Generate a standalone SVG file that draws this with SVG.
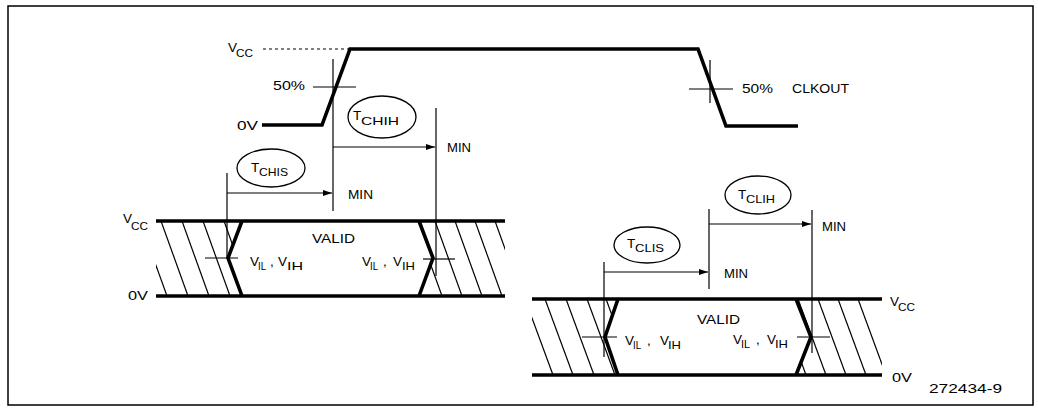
<svg xmlns="http://www.w3.org/2000/svg" width="1038" height="416" viewBox="0 0 1038 416">
<style>
text{font-family:"Liberation Sans",Arial,sans-serif;fill:#000}
.t{font-size:13.5px}
.s{font-size:11.5px}
.thick{fill:none;stroke:#000;stroke-width:3.6;stroke-linejoin:miter}
.thin{fill:none;stroke:#000;stroke-width:1.2}
.hat{stroke:#000;stroke-width:1.2}
.ov{fill:none;stroke:#000;stroke-width:1.3}
</style>
<defs>
<marker id="ah" markerWidth="10" markerHeight="8" refX="9" refY="3.5" orient="auto" markerUnits="userSpaceOnUse">
<path d="M0,0.5 L9,3.5 L0,6.5 Z" fill="#000"/>
</marker>
<clipPath id="c1"><polygon points="156,221 242,221 228,258 242,296 156,296"/></clipPath>
<clipPath id="c2"><polygon points="419,221 505,221 505,296 419,296 433,258"/></clipPath>
<clipPath id="c3"><polygon points="532,299 618,299 605,337 618,375 532,375"/></clipPath>
<clipPath id="c4"><polygon points="796,299 882,299 882,375 796,375 811,337"/></clipPath>
</defs>
<rect x="8" y="6" width="1025" height="399" fill="none" stroke="#000" stroke-width="1.5"/>

<g id="clkout">
<line x1="263" y1="49" x2="350" y2="49" stroke="#000" stroke-width="1" stroke-dasharray="3,3"/>
<polyline class="thick" points="262,125 322,125 350,49 698,49 726,126 798,126"/>
<line class="thin" x1="313" y1="87" x2="356" y2="87"/>
<line class="thin" x1="689" y1="89" x2="733" y2="89"/>
<line class="thin" x1="710" y1="60" x2="710" y2="103"/>
<text class="t" x="228" y="52">V</text><text class="s" x="236" y="57" textLength="17" lengthAdjust="spacingAndGlyphs">CC</text>
<text class="t" x="273" y="90" textLength="32" lengthAdjust="spacingAndGlyphs">50%</text>
<text class="t" x="237" y="130" textLength="21" lengthAdjust="spacingAndGlyphs">0V</text>
<text class="t" x="742" y="93" textLength="31" lengthAdjust="spacingAndGlyphs">50%</text>
<text class="t" x="792" y="93" textLength="57" lengthAdjust="spacingAndGlyphs">CLKOUT</text>
</g>

<g id="bus-left">
<line class="thick" x1="156" y1="221" x2="505" y2="221"/>
<line class="thick" x1="156" y1="296" x2="505" y2="296"/>
<g clip-path="url(#c1)">
<line class="hat" x1="140" y1="221" x2="167" y2="296"/>
<line class="hat" x1="161" y1="221" x2="188" y2="296"/>
<line class="hat" x1="182" y1="221" x2="209" y2="296"/>
<line class="hat" x1="203" y1="221" x2="230" y2="296"/>
<line class="hat" x1="224" y1="221" x2="251" y2="296"/>
</g>
<g clip-path="url(#c2)">
<line class="hat" x1="415" y1="221" x2="442" y2="296"/>
<line class="hat" x1="435" y1="221" x2="462" y2="296"/>
<line class="hat" x1="455" y1="221" x2="482" y2="296"/>
<line class="hat" x1="475" y1="221" x2="502" y2="296"/>
<line class="hat" x1="495" y1="221" x2="522" y2="296"/>
</g>
<polyline class="thick" points="242,221 228,258 242,296"/>
<polyline class="thick" points="419,221 433,258 419,296"/>
<line class="thin" x1="205" y1="258" x2="238" y2="258"/>
<line class="thin" x1="423" y1="259" x2="455" y2="259"/>
<text class="t" x="123" y="223">V</text><text class="s" x="131" y="230" textLength="17" lengthAdjust="spacingAndGlyphs">CC</text>
<text class="t" x="128" y="300" textLength="20" lengthAdjust="spacingAndGlyphs">0V</text>
<text class="t" x="312" y="243" textLength="43" lengthAdjust="spacingAndGlyphs">VALID</text>
<text class="t" x="250" y="266">V</text><text class="s" x="258" y="270" textLength="8" lengthAdjust="spacingAndGlyphs">IL</text>
<text class="t" x="270" y="266">,</text>
<text class="t" x="278" y="266">V</text><text class="s" x="287" y="270" textLength="16" lengthAdjust="spacingAndGlyphs">IH</text>
<text class="t" x="362" y="266">V</text><text class="s" x="370" y="270" textLength="8" lengthAdjust="spacingAndGlyphs">IL</text>
<text class="t" x="383" y="266">,</text>
<text class="t" x="393" y="266">V</text><text class="s" x="402" y="270" textLength="13" lengthAdjust="spacingAndGlyphs">IH</text>
</g>

<g id="bus-right">
<line class="thick" x1="532" y1="299" x2="882" y2="299"/>
<line class="thick" x1="532" y1="375" x2="882" y2="375"/>
<g clip-path="url(#c3)">
<line class="hat" x1="525" y1="299" x2="553" y2="375"/>
<line class="hat" x1="545" y1="299" x2="573" y2="375"/>
<line class="hat" x1="566" y1="299" x2="594" y2="375"/>
<line class="hat" x1="587" y1="299" x2="615" y2="375"/>
<line class="hat" x1="606" y1="299" x2="634" y2="375"/>
</g>
<g clip-path="url(#c4)">
<line class="hat" x1="778" y1="299" x2="806" y2="375"/>
<line class="hat" x1="798" y1="299" x2="826" y2="375"/>
<line class="hat" x1="818" y1="299" x2="846" y2="375"/>
<line class="hat" x1="838" y1="299" x2="866" y2="375"/>
<line class="hat" x1="858" y1="299" x2="886" y2="375"/>
</g>
<polyline class="thick" points="618,299 605,337 618,375"/>
<polyline class="thick" points="796,299 811,337 796,375"/>
<line class="thin" x1="582" y1="337" x2="617" y2="337"/>
<line class="thin" x1="797" y1="337" x2="830" y2="337"/>
<text class="t" x="890" y="306">V</text><text class="s" x="898" y="311" textLength="17" lengthAdjust="spacingAndGlyphs">CC</text>
<text class="t" x="892" y="382" textLength="20" lengthAdjust="spacingAndGlyphs">0V</text>
<text class="t" x="697" y="324" textLength="43" lengthAdjust="spacingAndGlyphs">VALID</text>
<text class="t" x="625" y="345">V</text><text class="s" x="633" y="349" textLength="8" lengthAdjust="spacingAndGlyphs">IL</text>
<text class="t" x="647" y="345">,</text>
<text class="t" x="660" y="345">V</text><text class="s" x="668" y="349" textLength="13" lengthAdjust="spacingAndGlyphs">IH</text>
<text class="t" x="733" y="344">V</text><text class="s" x="741" y="348" textLength="9" lengthAdjust="spacingAndGlyphs">IL</text>
<text class="t" x="756" y="344">,</text>
<text class="t" x="767" y="344">V</text><text class="s" x="775" y="348" textLength="13" lengthAdjust="spacingAndGlyphs">IH</text>
</g>

<g id="t-chih">
<ellipse class="ov" cx="382" cy="117" rx="34" ry="21"/>
<text class="t" x="353" y="120">T</text><text class="s" x="361" y="125" textLength="38" lengthAdjust="spacingAndGlyphs">CHIH</text>
<text class="t" x="447" y="152" textLength="24" lengthAdjust="spacingAndGlyphs">MIN</text>
</g>
<g id="t-chis">
<ellipse class="ov" cx="271" cy="168" rx="34" ry="19"/>
<text class="t" x="251" y="172">T</text><text class="s" x="259" y="176" textLength="29" lengthAdjust="spacingAndGlyphs">CHIS</text>
<text class="t" x="348" y="199" textLength="25" lengthAdjust="spacingAndGlyphs">MIN</text>
</g>
<g id="t-clis">
<ellipse class="ov" cx="647" cy="245" rx="33" ry="18"/>
<text class="t" x="627" y="248">T</text><text class="s" x="635" y="252" textLength="29" lengthAdjust="spacingAndGlyphs">CLIS</text>
<text class="t" x="724" y="278" textLength="24" lengthAdjust="spacingAndGlyphs">MIN</text>
</g>
<g id="t-clih">
<ellipse class="ov" cx="758" cy="195" rx="33" ry="19"/>
<text class="t" x="738" y="199">T</text><text class="s" x="746" y="203" textLength="29" lengthAdjust="spacingAndGlyphs">CLIH</text>
<text class="t" x="822" y="231" textLength="24" lengthAdjust="spacingAndGlyphs">MIN</text>
</g>

<g id="connectors">
<line class="thin" x1="333" y1="59" x2="333" y2="211"/>
<line class="thin" x1="436" y1="108" x2="436" y2="276"/>
<line class="thin" x1="227" y1="173" x2="227" y2="258"/>
<line class="thin" x1="604" y1="262" x2="604" y2="357"/>
<line class="thin" x1="709" y1="209" x2="709" y2="289"/>
<line class="thin" x1="812" y1="210" x2="812" y2="353"/>
<line class="thin" x1="333" y1="147" x2="435" y2="147" marker-end="url(#ah)"/>
<line class="thin" x1="227" y1="193" x2="332" y2="193" marker-end="url(#ah)"/>
<line class="thin" x1="604" y1="272" x2="708" y2="272" marker-end="url(#ah)"/>
<line class="thin" x1="709" y1="224" x2="811" y2="224" marker-end="url(#ah)"/>
</g>

<text class="t" x="929" y="393" textLength="73" lengthAdjust="spacingAndGlyphs">272434-9</text>
</svg>
